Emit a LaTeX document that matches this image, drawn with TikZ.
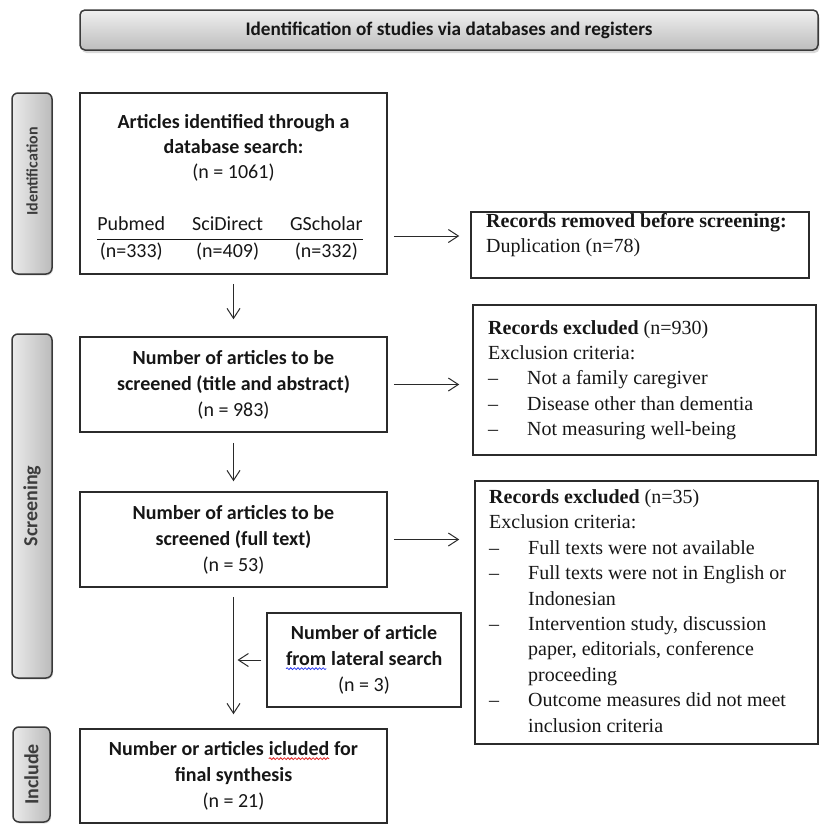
\documentclass[tikz,border=0pt]{standalone}
\usepackage{fontspec}
\setmainfont{Carlito}
\newfontfamily\tnr{Liberation Serif}
\usetikzlibrary{arrows.meta,shadows,decorations.pathmorphing}

\definecolor{boxline}{HTML}{2B2B2B}
\definecolor{tabline}{HTML}{3A3A3A}
\definecolor{arrline}{HTML}{2A2A2A}
\definecolor{tabl}{HTML}{EBEBEB}
\definecolor{tabr}{HTML}{BBBBBB}
\definecolor{txt}{HTML}{161616}
\definecolor{tabtxt}{HTML}{3C3C3C}
\definecolor{squigred}{HTML}{E02828}
\definecolor{squigblue}{HTML}{2B3BF0}

% wavy spell-check mark under a word
\newcommand{\squig}[2]{\tikz[baseline=(w.base)]{\node[inner sep=0pt,outer sep=0pt,minimum width=0pt,minimum height=0pt,draw=none] (w) {#2};
  \draw[#1,line width=0.8pt,decorate,decoration={snake,amplitude=0.9pt,segment length=3.6pt}] ([yshift=-3pt]w.base west) -- ([yshift=-3pt]w.base east);}}
% dash item of an exclusion list
\newcommand{\crit}[1]{\makebox[39pt][l]{\textendash}#1}
\newcommand{\critmore}[1]{\hspace*{39pt}#1}

\setlength{\arrayrulewidth}{1pt}

\begin{document}
\begin{tikzpicture}[x=1pt,y=-1pt,
  banner/.style={draw=tabline,line width=1.5pt,rounded corners=5pt,top color=black!6,bottom color=black!26,
    minimum width=738pt,minimum height=40pt,inner sep=0pt,text=txt,font=\bfseries\fontsize{19.2}{23}\selectfont,
    drop shadow={shadow xshift=1.5pt,shadow yshift=-3pt,opacity=.3}},
  tab/.style={draw=tabline,line width=1.5pt,rounded corners=6pt,left color=tabl,right color=tabr,
    minimum width=40pt,inner sep=0pt,text=tabtxt,font=\bfseries\fontsize{20}{24}\selectfont,
    drop shadow={shadow xshift=1pt,shadow yshift=-1.5pt,opacity=.25}},
  box/.style={draw=boxline,line width=1.5pt,minimum width=307pt,minimum height=95pt,inner sep=0pt,
    align=center,text=txt,font=\fontsize{20}{26}\selectfont},
  rbox/.style={draw=boxline,line width=1.5pt,inner sep=0pt},
  rtext/.style={anchor=base west,inner sep=0pt,align=left,text=txt,font=\tnr\fontsize{20}{25.4}\selectfont},
  arr/.style={draw=arrline,line width=1pt,-{Straight Barb[length=10pt,width=13pt]}}]

\useasboundingbox (0,0) rectangle (821,827);

% header and phase tabs
\node[banner] (banner) at (449,30) {Identification of studies via databases and registers};
\node[tab,minimum height=181pt] (tabid) at (32,183.5) {\rotatebox{90}{\fontsize{16}{18}\selectfont\hspace{24pt}Identification}};
\node[tab,minimum height=344pt] (tabscr) at (32,506) {\rotatebox{90}{Screening}};
\node[tab,minimum width=37pt,minimum height=95pt] (tabinc) at (31.5,774.5) {\rotatebox{90}{Include}};

% main column
\node[box,minimum height=181pt] (idbox) at (233.5,183.5) {};
\node[inner sep=0pt,align=center,text=txt,font=\bfseries\fontsize{20}{25}\selectfont] (idtitle) at (233.5,148)
  {Articles identified through a\\database search:\\{\mdseries (n = 1061)}};
\node[inner sep=0pt,text=txt,font=\fontsize{20}{26}\selectfont] (idtable) at (230,239)
  {\begin{tabular}{@{}c@{\hspace{27pt}}c@{\hspace{27pt}}c@{}}
    Pubmed & SciDirect & GScholar\\ \hline
    (n=333) & (n=409) & (n=332)
  \end{tabular}};
\node[box] (scrbox) at (233.5,384.5) {\textbf{Number of articles to be}\\\textbf{screened (title and abstract)}\\(n = 983)};
\node[box] (fullbox) at (233.5,539.5) {\textbf{Number of articles to be}\\\textbf{screened (full text)}\\(n = 53)};
\node[box,minimum height=94pt] (inclbox) at (233.5,776) {\textbf{Number or articles \squig{squigred}{icluded} for}\\\textbf{final synthesis}\\(n = 21)};
\node[box,minimum width=194pt,minimum height=94pt] (lateral) at (364,660) {\textbf{Number of article}\\\textbf{\squig{squigblue}{from} lateral search}\\(n = 3)};

% side boxes (text anchored on the baseline of its last line)
\node[rbox,minimum width=338pt,minimum height=66pt] (removed) at (640,245) {};
\node[rtext] (removedtxt) at (486,252.4) {\textbf{Records removed before screening:}\\Duplication (n=78)};
\node[rbox,minimum width=343pt,minimum height=150pt] (excla) at (644.5,380) {};
\node[rtext] (exclatxt) at (488,435.6) {\textbf{Records excluded} (n=930)\\Exclusion criteria:\\
  \crit{Not a family caregiver}\\\crit{Disease other than dementia}\\\crit{Not measuring well-being}};
\node[rbox,minimum width=343pt,minimum height=263pt] (exclb) at (646.5,612.5) {};
\node[rtext] (exclbtxt) at (489,732) {\textbf{Records excluded} (n=35)\\Exclusion criteria:\\
  \crit{Full texts were not available}\\\crit{Full texts were not in English or}\\\critmore{Indonesian}\\
  \crit{Intervention study, discussion}\\\critmore{paper, editorials, conference}\\\critmore{proceeding}\\
  \crit{Outcome measures did not meet}\\\critmore{inclusion criteria}};

% arrows
\draw[arr,shorten <=9pt,shorten >=17pt] (idbox.south) -- (scrbox.north);
\draw[arr,shorten <=10pt,shorten >=10pt] (scrbox.south) -- (fullbox.north);
\draw[arr,shorten <=9pt,shorten >=14pt] (fullbox.south) -- (inclbox.north);
\draw[arr,shorten <=6pt,shorten >=11pt] (idbox.east |- 0,236) -- (removed.west |- 0,236);
\draw[arr,shorten <=6pt,shorten >=13pt] (scrbox.east) -- (excla.west |- scrbox.east);
\draw[arr,shorten <=6pt,shorten >=15pt] (fullbox.east) -- (exclb.west |- fullbox.east);
\draw[arr,shorten <=5pt,shorten >=4pt] (lateral.west) -- (fullbox.south |- lateral.west);
\end{tikzpicture}
\end{document}
